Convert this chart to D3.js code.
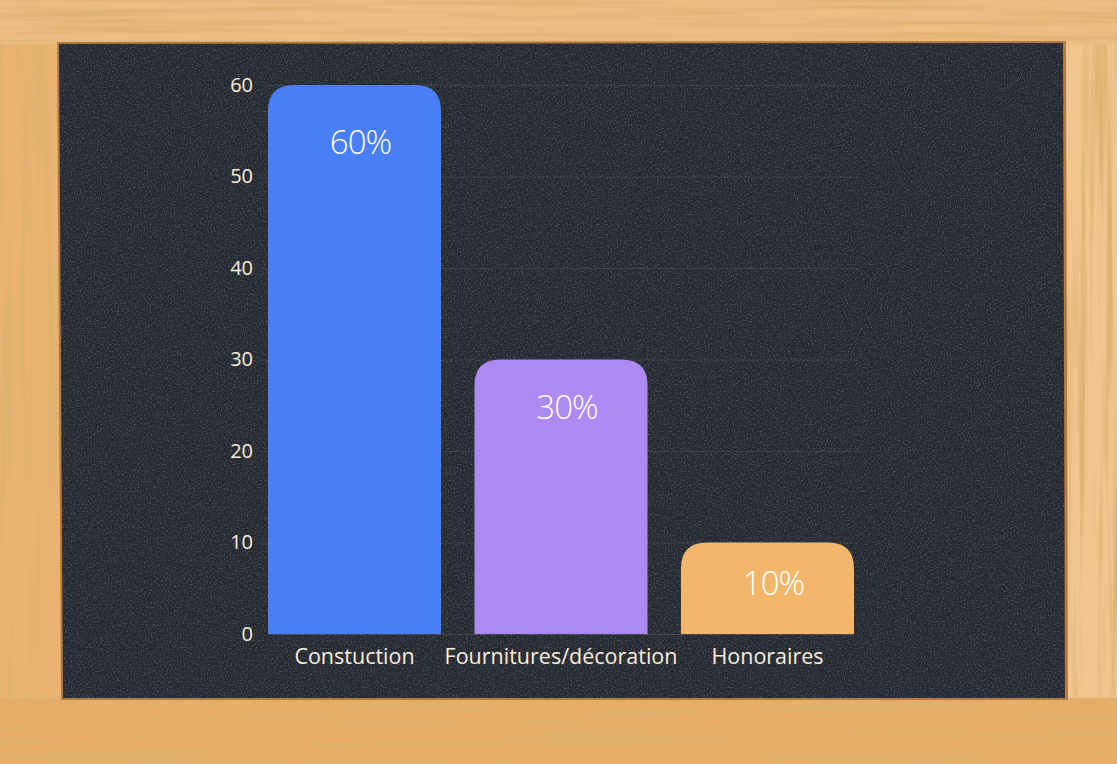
<!DOCTYPE html>
<html>
<head>
<meta charset="utf-8">
<script src="https://cdn.jsdelivr.net/npm/d3@7"></script>
<style>
  html, body { margin: 0; padding: 0; background: #e3a964; }
  svg { display: block; }
</style>
</head>
<body>
<svg id="chart" width="1117" height="764"></svg>
<script>
// ---- data ----
const categories = ["Constuction", "Fournitures/décoration", "Honoraires"];
const values = [60, 30, 10];
const valueLabels = ["60%", "30%", "10%"];
const barColors = ["#4a7ef5", "#ad8af2", "#f2b76b"];
const yTicks = [0, 10, 20, 30, 40, 50, 60];

const svg = d3.select("#chart");
const W = 1117, H = 764;

// ---- defs: textures ----
const defs = svg.append("defs");
const chalk = defs.append("filter").attr("id", "chalk").attr("x", 0).attr("y", 0).attr("width", 1).attr("height", 1);
chalk.append("feTurbulence").attr("type", "fractalNoise").attr("baseFrequency", "0.7").attr("numOctaves", 2).attr("seed", 3).attr("result", "noise");
chalk.append("feColorMatrix").attr("in", "noise").attr("type", "matrix")
  .attr("values", "0 0 0 0 0.50  0 0 0 0 0.51  0 0 0 0 0.55  0 0 0 0.4 -0.2").attr("result", "spk");
chalk.append("feComposite").attr("in", "spk").attr("in2", "SourceGraphic").attr("operator", "in").attr("result", "spk2");
chalk.append("feMerge").selectAll("feMergeNode").data(["SourceGraphic", "spk2"]).join("feMergeNode").attr("in", d => d);

function woodFilter(id, freq, seed) {
  const f = defs.append("filter").attr("id", id).attr("x", 0).attr("y", 0).attr("width", 1).attr("height", 1);
  f.append("feTurbulence").attr("type", "fractalNoise").attr("baseFrequency", freq).attr("numOctaves", 3).attr("seed", seed).attr("result", "n");
  f.append("feColorMatrix").attr("in", "n").attr("type", "matrix")
    .attr("values", "0 0 0 0 0.72  0 0 0 0 0.44  0 0 0 0 0.16  3.0 0 0 0 -1.35").attr("result", "g");
  f.append("feComposite").attr("in", "g").attr("in2", "SourceGraphic").attr("operator", "in").attr("result", "g2");
  f.append("feMerge").selectAll("feMergeNode").data(["SourceGraphic", "g2"]).join("feMergeNode").attr("in", d => d);
}
woodFilter("woodH", "0.004 0.15", 7);
woodFilter("woodV", "0.15 0.004", 11);

// ---- frame ----
svg.append("rect").attr("x", 0).attr("y", 0).attr("width", W).attr("height", 46).attr("fill", "#ecbd84").attr("filter", "url(#woodH)");
svg.append("rect").attr("x", 0).attr("y", 696).attr("width", W).attr("height", H - 696).attr("fill", "#e7ad67").attr("filter", "url(#woodH)");
svg.append("rect").attr("x", 0).attr("y", 44).attr("width", 62).attr("height", 654).attr("fill", "#e9b473").attr("filter", "url(#woodV)");
svg.append("rect").attr("x", 1062).attr("y", 44).attr("width", 55).attr("height", 654).attr("fill", "#efc690").attr("filter", "url(#woodV)");
// inner bevel shadow
svg.append("path").attr("d", "M57,42 L1066,41 L1068,700 L61,700 Z").attr("fill", "#b57a40");
// chalkboard
svg.append("path").attr("d", "M59,44 L1063,43 L1065,698 L63,698 Z").attr("fill", "#282b30").attr("filter", "url(#chalk)");

// ---- scales ----
const x = d3.scaleBand().domain(categories).range([268, 854]).paddingInner(0.162).paddingOuter(0);
const y = d3.scaleLinear().domain([0, 60]).range([634, 85]);

// grid lines
svg.append("g").selectAll("line").data(yTicks.slice(1)).join("line")
  .attr("x1", 262).attr("x2", 858)
  .attr("y1", d => y(d) + 0.5).attr("y2", d => y(d) + 0.5)
  .attr("stroke", "#ffffff").attr("stroke-opacity", 0.09).attr("stroke-width", 1);

// y axis
const yAxis = svg.append("g").attr("transform", "translate(253,0)")
  .call(d3.axisLeft(y).tickValues(yTicks).tickSize(0).tickPadding(0));
yAxis.select(".domain").remove();
yAxis.selectAll("text").attr("fill", "#f7eedd").attr("font-family", "'Open Sans', sans-serif").attr("font-size", 20).attr("dy", "0.3em");

// x axis
const xAxis = svg.append("g").attr("transform", `translate(0,${y(0)})`)
  .call(d3.axisBottom(x).tickSize(0).tickPadding(17));
xAxis.select(".domain").attr("stroke", "#ffffff").attr("stroke-opacity", 0.12);
xAxis.selectAll("text").attr("fill", "#f7eedd").attr("font-family", "'Open Sans', sans-serif").attr("font-size", 21.5).attr("dy", "0.62em");

// bars with rounded top corners
const r = 26;
function barPath(d, i) {
  const x0 = x(categories[i]), w = x.bandwidth();
  const top = y(d), bot = y(0);
  return `M${x0},${bot} L${x0},${top + r} Q${x0},${top} ${x0 + r},${top} L${x0 + w - r},${top} Q${x0 + w},${top} ${x0 + w},${top + r} L${x0 + w},${bot} Z`;
}
svg.append("g").selectAll("path").data(values).join("path")
  .attr("d", (d, i) => barPath(d, i))
  .attr("fill", (d, i) => barColors[i]);

// value labels
svg.append("g").selectAll("text").data(values).join("text")
  .attr("x", (d, i) => x(categories[i]) + x.bandwidth() / 2 + 6)
  .attr("y", d => y(d) + 49 + d / 3)
  .attr("text-anchor", "middle")
  .attr("fill", "#ffffff")
  .attr("font-family", "'Open Sans', sans-serif")
  .attr("font-weight", 300)
  .attr("font-size", 33)
  .attr("letter-spacing", -1)
  .text((d, i) => valueLabels[i]);
</script>
</body>
</html>
